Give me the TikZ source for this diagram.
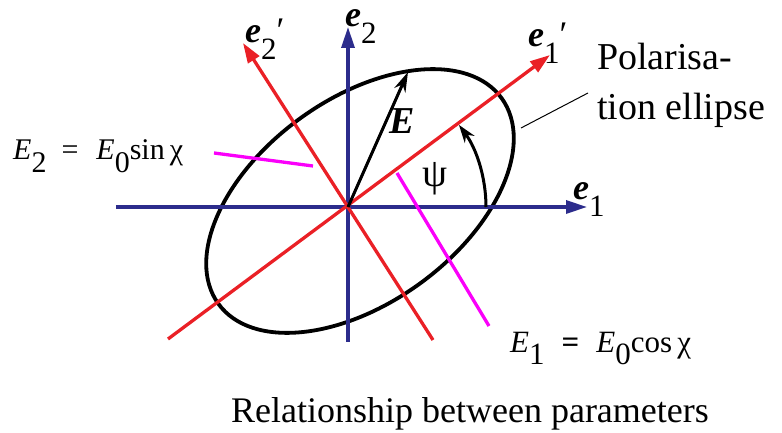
\documentclass[tikz,border=0pt]{standalone}
\usepackage{fontspec}
\setmainfont{Liberation Serif}
\usetikzlibrary{arrows.meta}
\definecolor{axblue}{RGB}{44,44,140}
\definecolor{axred}{RGB}{234,32,38}
\definecolor{chimag}{RGB}{250,0,250}
\newcommand{\fsz}[1]{\fontsize{#1}{#1}\selectfont}
\newcommand{\uvec}[1]{{\bfseries\itshape e}\raisebox{-17pt}{\fsz{31}#1}}
\tikzset{
  ax/.style={line width=3.3pt,axblue,-{Triangle[length=21pt,width=13pt]}},
  rax/.style={line width=3.3pt,axred,-{Triangle[length=20pt,width=13pt]}},
  proj/.style={line width=3.3pt,chimag},
  lbl/.style={inner sep=0pt,anchor=base west},
}
\begin{document}
\begin{tikzpicture}[x=1pt,y=1pt]
  \useasboundingbox (-348,-226) rectangle (434,207);
  \coordinate (O) at (0,0);
  \draw[line width=3.8pt,rotate around={36:(12,6)}] (12,6) ellipse (175pt and 102pt);
  % axes
  \coordinate (x0) at (-232,0); \coordinate (x1) at (239,0);
  \coordinate (y0) at (0,-135); \coordinate (y1) at (0,180);
  \draw[ax] (x0) -- (x1);
  \draw[ax] (y0) -- (y1);
  \coordinate (a0) at (-180,-132); \coordinate (a1) at (202,152);
  \coordinate (b0) at (85,-133); \coordinate (b1) at (-105,164);
  \draw[rax] (a0) -- (a1);
  \draw[rax] (b0) -- (b1);
  % projections
  \coordinate (p0) at (-134,54); \coordinate (p1) at (-35,41);
  \coordinate (q0) at (49,34); \coordinate (q1) at (141,-119);
  \draw[proj] (p0) -- (p1);
  \draw[proj] (q0) -- (q1);
  % field vector and angle
  \coordinate (Etip) at (60,135);
  \draw[line width=3pt,-{Stealth[length=20pt,width=12pt]}] (O) -- (Etip);
  \coordinate (psiA) at (138,0);
  \draw[line width=3pt,-{Stealth[length=18pt,width=12pt]}] (psiA) arc[start angle=0,end angle=36.5,radius=138pt];
  \node[font=\fsz{38}\bfseries\itshape] (Elab) at (54,86) {E};
  \node[font=\fsz{40}] (psi) at (87,28) {ψ};
  \node[lbl,font=\fsz{36}] (e1) at (225,7) {\uvec{1}};
  \node[lbl,font=\fsz{36}] (e2) at (-3,180) {\uvec{2}};
  \node[lbl,font=\fsz{36}] (e1p) at (180,160) {\uvec{1}′};
  \node[lbl,font=\fsz{36}] (e2p) at (-103,164) {\uvec{2}′};
  \node[lbl,font=\fsz{30}] (E2lab) at (-335,47) {\textit{E}\raisebox{-13pt}{2}\hspace{0.5em}=\hspace{0.6em}\textit{E}\raisebox{-13pt}{0}sin\,χ};
  \node[lbl,font=\fsz{31}] (E1lab) at (162,-146) {\textit{E}\raisebox{-12pt}{1}\hspace{0.55em}\textbf{=}\hspace{0.55em}\textit{E}\raisebox{-12pt}{0}cos\,χ};
  \node[lbl,font=\fsz{38}] (pol1) at (249,137) {Polarisa-};
  \node[lbl,font=\fsz{38}] (pol2) at (249,87) {tion ellipse};
  \coordinate (ldA) at (173,79); \coordinate (ldB) at (240,114);
  \draw[line width=1pt] (ldA) -- (ldB);
  \node[font=\fsz{36},anchor=base] (cap) at (122,-215) {Relationship between parameters};
\end{tikzpicture}
\end{document}
